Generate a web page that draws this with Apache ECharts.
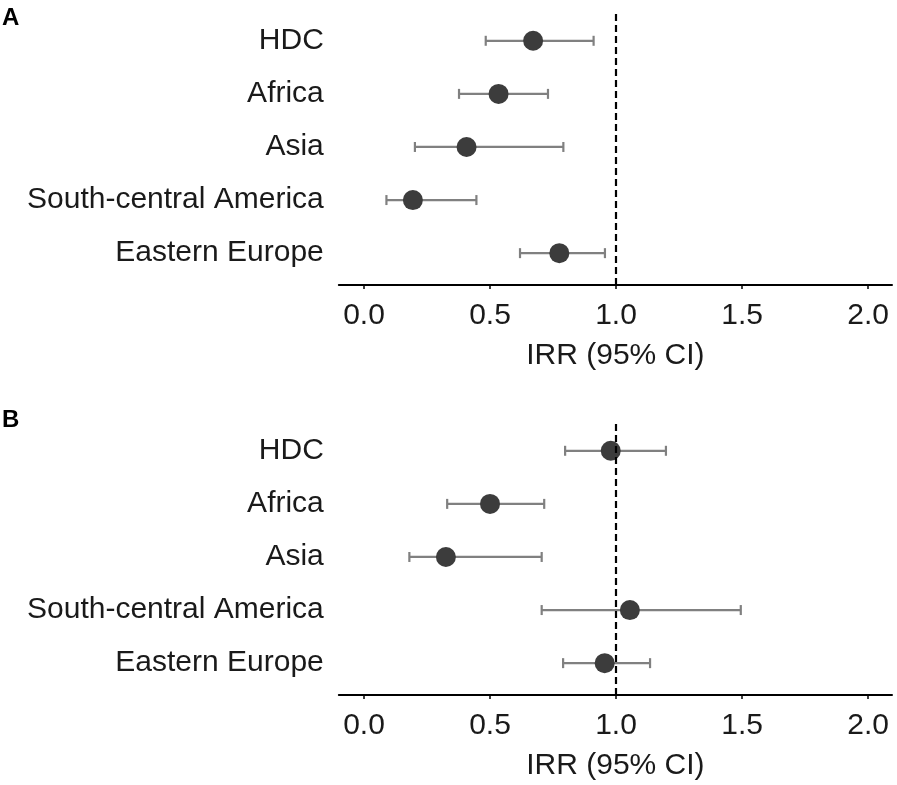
<!DOCTYPE html>
<html>
<head>
<meta charset="utf-8">
<script src="https://cdn.jsdelivr.net/npm/echarts@6/dist/echarts.min.js"></script>
<style>
html,body{margin:0;padding:0;background:#fff;}
#main{width:897px;height:785px;}
</style>
</head>
<body>
<div id="main"></div>
<script>
// forest plot data
var regions = ['HDC', 'Africa', 'Asia', 'South-central America', 'Eastern Europe'];
var rowPos  = [5, 4, 3, 2, 1];

// panel A
var irrA  = [0.671, 0.534, 0.407, 0.194, 0.775];
var lowA  = [0.483, 0.377, 0.202, 0.089, 0.619];
var highA = [0.911, 0.730, 0.791, 0.446, 0.956];

// panel B
var irrB  = [0.979, 0.500, 0.325, 1.055, 0.955];
var lowB  = [0.798, 0.330, 0.180, 0.705, 0.790];
var highB = [1.198, 0.715, 0.705, 1.495, 1.135];

var xTicks = [0, 0.5, 1, 1.5, 2];
var refLine = 1;
var axisTitle = 'IRR (95% CI)';

var FONT = '"Liberation Sans", Arial, sans-serif';

var chart = echarts.init( document.getElementById('main') );

//error bar with caps
function renderBar( params, api )
{
	var lo = api.coord( [api.value(0), api.value(2)] );
	var hi = api.coord( [api.value(1), api.value(2)] );
	var cap = 5;
	var st = { stroke: '#808080', lineWidth: 2.2 };
	return {
		type: 'group',
		children: [
			{ type: 'line', shape: { x1: lo[0], y1: lo[1], x2: hi[0], y2: hi[1] }, style: st },
			{ type: 'line', shape: { x1: lo[0], y1: lo[1] - cap, x2: lo[0], y2: lo[1] + cap }, style: st },
			{ type: 'line', shape: { x1: hi[0], y1: hi[1] - cap, x2: hi[0], y2: hi[1] + cap }, style: st }
		]
	};
}

var grids = [], xAxes = [], yAxes = [], series = [];
var panels = [ [irrA, lowA, highA], [irrB, lowB, highB] ];
var tops = [10, 420];

panels.forEach( function( p, k ){
	grids.push({ left: 338.8, right: 5, top: tops[k], height: 275 });
	xAxes.push({
		type: 'value', gridIndex: k, min: -0.1, max: 2.095,
		name: axisTitle, nameLocation: 'middle', nameGap: 56,
		nameTextStyle: { fontFamily: FONT, fontSize: 30, color: '#1a1a1a' },
		axisLine: { show: true, onZero: false, lineStyle: { color: '#000', width: 2 } },
		axisTick: { show: true, customValues: xTicks, length: 4, lineStyle: { color: '#000', width: 1.5 } },
		axisLabel: {
			customValues: xTicks, margin: 16, fontFamily: FONT, fontSize: 30, color: '#1a1a1a',
			formatter: function( v ){ return v.toFixed(1); }
		},
		splitLine: { show: false }
	});
	yAxes.push({
		type: 'value', gridIndex: k, min: 0.4, max: 5.58,
		axisLine: { show: false }, axisTick: { show: false }, splitLine: { show: false },
		axisLabel: {
			customValues: rowPos, margin: 15, fontFamily: FONT, fontSize: 30, color: '#1a1a1a',
			formatter: function( v ){ return regions[ rowPos.indexOf( v ) ]; }
		}
	});
	var bars = [], pts = [];
	for( var i = 0; i < regions.length; i++ )
	{
		bars.push( [ p[1][i], p[2][i], rowPos[i] ] );
		pts.push( [ p[0][i], rowPos[i] ] );
	}
	series.push({
		type: 'custom', xAxisIndex: k, yAxisIndex: k, z: 2,
		renderItem: renderBar, data: bars, silent: true,
		markLine: {
			silent: true, symbol: 'none', label: { show: false },
			lineStyle: { color: '#000', width: 2.2, type: [7, 4] },
			data: [ { xAxis: refLine } ]
		}
	});
	series.push({
		type: 'scatter', xAxisIndex: k, yAxisIndex: k, z: 3,
		symbol: 'circle', symbolSize: 20,
		itemStyle: { color: '#3c3c3c', opacity: 1 },
		data: pts
	});
});

chart.setOption({
	animation: false,
	backgroundColor: '#fff',
	grid: grids,
	xAxis: xAxes,
	yAxis: yAxes,
	series: series,
	graphic: [
		{ type: 'text', left: 2, top: 6, style: { text: 'A', font: 'bold 24px ' + FONT, fill: '#000' } },
		{ type: 'text', left: 2, top: 408, style: { text: 'B', font: 'bold 24px ' + FONT, fill: '#000' } }
	]
});
</script>
</body>
</html>
